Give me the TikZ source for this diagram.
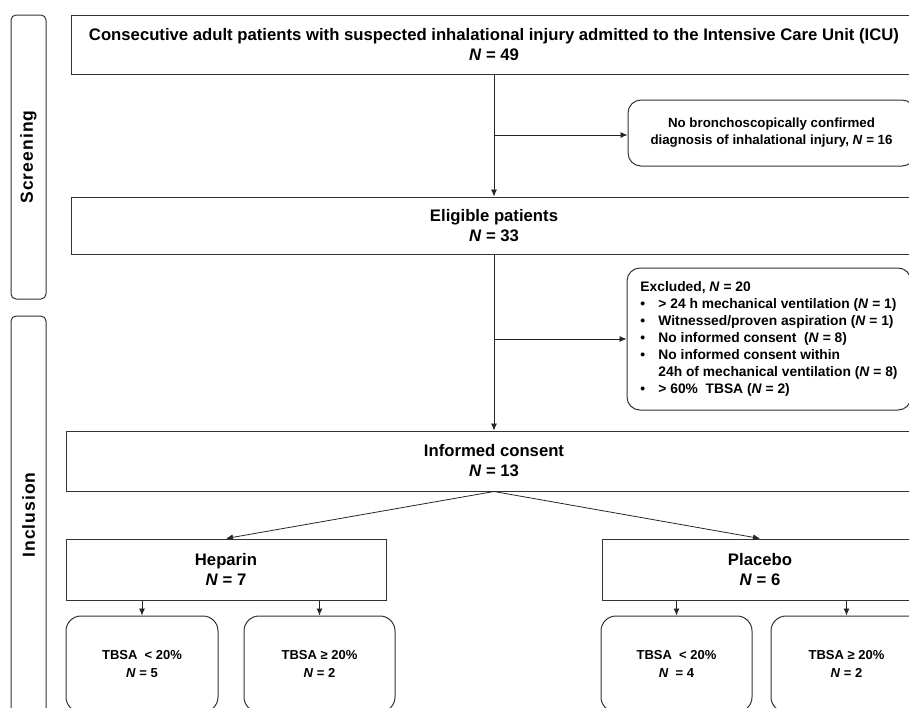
\documentclass[tikz,border=0pt]{standalone}
\usepackage{fontspec}
\setmainfont{Liberation Sans}
\usetikzlibrary{arrows.meta}
\newcommand{\NN}{\textit{N}}

\begin{document}
\begin{tikzpicture}[x=1pt,y=-1pt,
  box/.style={draw=black!80,line width=1pt,fill=white,inner sep=0pt,align=center,
    font=\fontsize{16.7}{20}\selectfont\bfseries},
  rbox/.style={box,rounded corners=13pt,font=\fontsize{13.3}{17}\selectfont\bfseries},
  tbox/.style={box,rounded corners=15pt,minimum width=151pt,minimum height=96pt,
    font=\fontsize{13}{18}\selectfont\bfseries},
  side/.style={draw=black!80,line width=1pt,rounded corners=5pt,inner sep=0pt,minimum width=35pt},
  sidetext/.style={rotate=90,font=\fontsize{17.5}{20}\selectfont\bfseries\addfontfeature{LetterSpace=6}},
  arr/.style={draw=black!85,line width=0.8pt,-{Latex[length=7pt,width=6pt]}}]
\useasboundingbox (0,0) rectangle (909,707);
\clip (0,0) rectangle (909,707);
\node[side,minimum height=284pt] (scr) at (28.5,157) {};
\node[sidetext] (scrtxt) at (scr.center) {Screening};
\node[side,minimum height=398pt] (inc) at (28.5,515) {};
\node[sidetext] (inctxt) at (inc.center) {Inclusion};
\node[box,minimum width=846pt,minimum height=59pt] (top) at (494,44.5)
  {Consecutive adult patients with suspected inhalational injury admitted to the Intensive Care Unit (ICU)\\\NN{} = 49};
\node[rbox,minimum width=287pt,minimum height=66pt] (ex1) at (771.5,133)
  {No bronchoscopically confirmed\\diagnosis of inhalational injury, \NN{} = 16};
\node[box,minimum width=846pt,minimum height=57pt] (elig) at (494,225.5) {Eligible patients\\\NN{} = 33};
\node[rbox,align=left,minimum width=284pt,minimum height=142pt,font=\fontsize{13.8}{17}\selectfont\bfseries] (ex2) at (769,339)
  {Excluded, \NN{} = 20\\
   \makebox[18pt][l]{•}{> 24 h mechanical ventilation (\NN{} = 1)}\\
   \makebox[18pt][l]{•}Witnessed/proven aspiration (\NN{} = 1)\\
   \makebox[18pt][l]{•}No informed consent\ \ (\NN{} = 8)\\
   \makebox[18pt][l]{•}No informed consent within\\
   \hspace*{18pt}24h of mechanical ventilation (\NN{} = 8)\\
   \makebox[18pt][l]{•}> 60\%\ \ TBSA (\NN{} = 2)};
\node[box,minimum width=856pt,minimum height=60pt] (inf) at (494,461) {Informed consent\\\NN{} = 13};
\node[box,minimum width=320pt,minimum height=61pt] (hep) at (226,569.5) {Heparin\\\NN{} = 7};
\node[box,minimum width=316pt,minimum height=61pt] (plc) at (760,569.5) {Placebo\\\NN{} = 6};
\node[tbox,minimum width=152pt] (t1) at (142,664) {TBSA\ \ < 20\%\\\NN{} = 5};
\node[tbox] (t2) at (319.5,664) {TBSA ≥ 20\%\\\NN{} = 2};
\node[tbox] (t3) at (676.5,664) {TBSA\ \ < 20\%\\\NN{}\ \ = 4};
\node[tbox] (t4) at (846.5,664) {TBSA ≥ 20\%\\\NN{} = 2};
\coordinate (j1) at (494,135);
\coordinate (j2) at (494,339);
\draw[arr] (top) -- (elig);
\draw[arr] (j1) -- (j1 -| ex1.west);
\draw[arr] (elig) -- (inf);
\draw[arr] (j2) -- (j2 -| ex2.west);
\draw[arr] (inf.south) -- (hep.north);
\draw[arr] (inf.south) -- (plc.north);
\draw[arr] (hep.south -| t1.north) -- (t1.north);
\draw[arr] (hep.south -| t2.north) -- (t2.north);
\draw[arr] (plc.south -| t3.north) -- (t3.north);
\draw[arr] (plc.south -| t4.north) -- (t4.north);
\end{tikzpicture}
\end{document}
